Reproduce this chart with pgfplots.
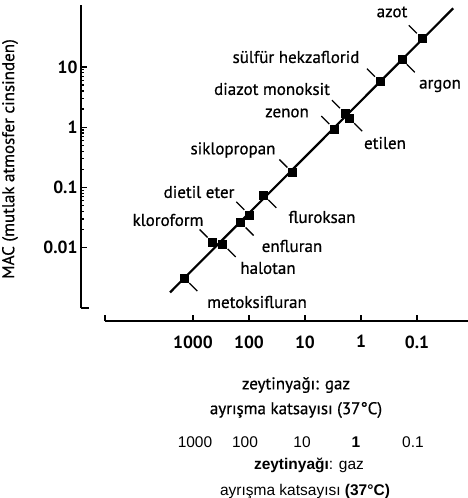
\documentclass[border=0pt]{standalone}
\usepackage{fontspec}
\setmainfont{PT Sans}
\newfontfamily\lblfont[FakeBold=0.6]{PT Sans}
\newfontfamily\ocrfont{Liberation Sans}
\usepackage{pgfplots}
\pgfplotsset{compat=1.18}
\newcommand\lul[2]{\draw[line width=1.3pt] ([shift={(-5pt,5pt)}]axis cs:#1,#2) -- ++(-8pt,8pt);}
\newcommand\llr[2]{\draw[line width=1.3pt] ([shift={(5pt,-5pt)}]axis cs:#1,#2) -- ++(8pt,-8pt);}
\begin{document}
\begin{tikzpicture}[x=1pt,y=1pt]
\useasboundingbox (0,0) rectangle (468,498);
\begin{axis}[
  at={(81pt,190pt)}, anchor=south west,
  scale only axis, width=387pt, height=303pt,
  xmode=log, ymode=log, x dir=reverse,
  xmin=0.01227, xmax=1e5, ymin=0.001, ymax=106.7,
  axis y line*=left, axis x line*=bottom,
  axis x line shift=13pt,
  x axis line style={draw=none},
  y axis line style={line width=1.3pt},
  xtick={1000,100,10,1,0.1}, xticklabels={1000,100,10,1,0.1},
  extra x ticks={37240}, extra x tick labels={}, extra x tick style={grid=none},
  ytick={0.01,0.1,1,10}, yticklabels={0.01,0.1,1,10},
  xtick align=inside, ytick align=inside,
  major tick length=6pt,
  tick style={line width=1.2pt, black},
  ticklabel style={font=\bfseries\fontsize{17.5}{17.5}\selectfont},
  xticklabel style={yshift=-11pt},
  clip=false,
]
\addplot[black, line width=2.2pt] coordinates {(2576,0.00181) (0.0225,94.2)};
\addplot[only marks, mark=square*, mark size=4pt, black] coordinates {
 (0.082,29.9) (0.187,13.4) (0.458,5.7) (1.93,1.71) (1.62,1.41) (2.99,0.93)
 (16.8,0.177) (55.5,0.0754) (98.7,0.0351) (141,0.0262) (445,0.0122) (295,0.0116)
 (1429,0.00313)};
\lul{0.082}{29.9}
\llr{0.187}{13.4}
\lul{0.458}{5.7}
\lul{1.93}{1.71}
\llr{1.62}{1.41}
\lul{2.99}{0.93}
\lul{16.8}{0.177}
\llr{55.5}{0.0754}
\lul{98.7}{0.0351}
\llr{141}{0.0262}
\lul{445}{0.0122}
\llr{295}{0.0116}
\llr{1429}{0.00313}
\end{axis}
\draw[line width=1.3pt] (81,190) -- (89,190);
\draw[line width=1.2pt] (105,177) -- (468,177);
\begin{scope}[every node/.style={font=\lblfont\fontsize{17}{17}\selectfont, inner sep=0pt}]
\node at (392,486) {azot};
\node at (296,441) {sülfür hekzaflorid};
\node at (440,412) {argon};
\node at (272,409) {diazot monoksit};
\node at (287,385) {zenon};
\node at (385,355) {etilen};
\node at (233,348) {siklopropan};
\node at (199,306) {dietil eter};
\node at (322,281) {fluroksan};
\node at (168,278) {kloroform};
\node at (292,252) {enfluran};
\node at (268,230) {halotan};
\node at (257,196) {metoksifluran};
\node at (296,113) {zeytinyağı: gaz};
\node at (296,88) {ayrışma katsayısı (37°C)};
\node[rotate=90] at (10,339) {MAC (mutlak atmosfer cinsinden)};
\end{scope}
\begin{scope}[every node/.style={font=\ocrfont\fontsize{15.5}{15.5}\selectfont, inner sep=0pt}]
\node at (195,56) {1000};
\node at (245,56) {100};
\node at (302,56) {10};
\node at (356,56) {\bfseries 1};
\node at (413,56) {0.1};
\node at (309,33) {\bfseries zeytinyağı\mdseries: gaz};
\node at (305,6) {ayrışma katsayısı \bfseries(37°C)};
\end{scope}
\end{tikzpicture}
\end{document}
